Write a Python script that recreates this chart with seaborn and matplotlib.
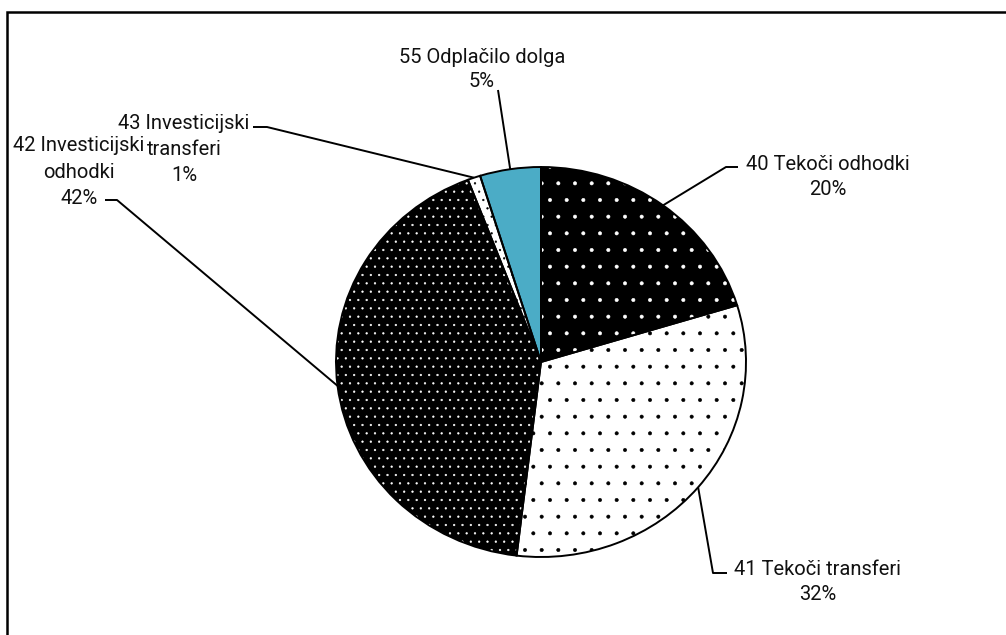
import numpy as np
import matplotlib
matplotlib.use("Agg")
import matplotlib.pyplot as plt
import seaborn as sns

# Expenditure structure by economic classification (share of total, %)
categories = ["40 Tekoči odhodki", "41 Tekoči transferi", "42 Investicijski\nodhodki",
              "43 Investicijski\ntransferi", "55 Odplačilo dolga"]
shares = [20.3, 31.6, 42.3, 1.0, 4.8]

sns.set_theme(style="white")
plt.rcParams["font.family"] = ["Roboto", "DejaVu Sans"]
plt.rcParams["hatch.linewidth"] = 0.4

W, H = 1006, 635
fig = plt.figure(figsize=(W / 100, H / 100), dpi=100)
fig.patch.set_facecolor("white")

# overlay in pixel coordinates for the frame, labels and leader lines
ov = fig.add_axes([0, 0, 1, 1])
ov.set_xlim(0, W)
ov.set_ylim(H, 0)
ov.axis("off")

# pie area (slightly wider than tall)
cx, cy, rx, ry = 541, 362, 205, 195
ax = fig.add_axes([(cx - rx) / W, (H - cy - ry) / H, 2 * rx / W, 2 * ry / H])

blue = sns.color_palette(["#4BACC6"])[0]
faces = ["black", "white", "black", "white", blue]
dots = ["white", "black", "white", "black", blue]
hatches = [".", ".", "..", "..", None]

wedges, _ = ax.pie(shares, startangle=90, counterclock=False, radius=1.0)
for w, fc, dc, h in zip(wedges, faces, dots, hatches):
    w.set_facecolor(fc)
    w.set_edgecolor(dc)
    w.set_linewidth(0)
    if h:
        w.set_hatch(h)

# outlines on top
outl, _ = ax.pie(shares, startangle=90, counterclock=False, radius=1.0,
                 wedgeprops=dict(fill=False, edgecolor="black", linewidth=1.4))
ax.set_aspect("auto")
ax.set_xlim(-1, 1)
ax.set_ylim(-1, 1)
ax.axis("off")

fig.canvas.draw()
to_px = ov.transData.inverted()

def edge_point(w):
    mid = np.deg2rad((w.theta1 + w.theta2) / 2)
    disp = ax.transData.transform((np.cos(mid), np.sin(mid)))
    return to_px.transform(disp)

# label placement: text centre x, first-line centre y, line pitch
label_pos = [(828, 163, 25), (818, 568, 25), (79, 144, 26.5), (184, 122, 26), (482, 56, 24)]
elbows = [((726, 167), (738, 167)),
          ((713, 573), (727, 573)),
          ((117, 200), (105, 200)),
          ((267, 127), (253, 127)),
          ((498, 90), None)]

for w, cat, val, (tx, ty, pitch), (elb, end) in zip(wedges, categories, shares, label_pos, elbows):
    ex, ey = edge_point(w)
    xs = [ex, elb[0]]
    ys = [ey, elb[1]]
    if end is not None:
        xs.append(end[0])
        ys.append(end[1])
    ov.plot(xs, ys, color="black", lw=1.4, solid_capstyle="butt")
    lines = cat.split("\n") + [f"{val:.0f}%"]
    for i, line in enumerate(lines):
        ov.text(tx, ty + i * pitch + 7, line, ha="center", va="baseline",
                fontsize=14.5, color="#111111")

# outer frame (left and top edges)
ov.plot([7, 7, W], [H, 12, 12], color="black", lw=1.8, solid_joinstyle="miter")

fig.savefig("out.png", dpi=100, facecolor="white")
